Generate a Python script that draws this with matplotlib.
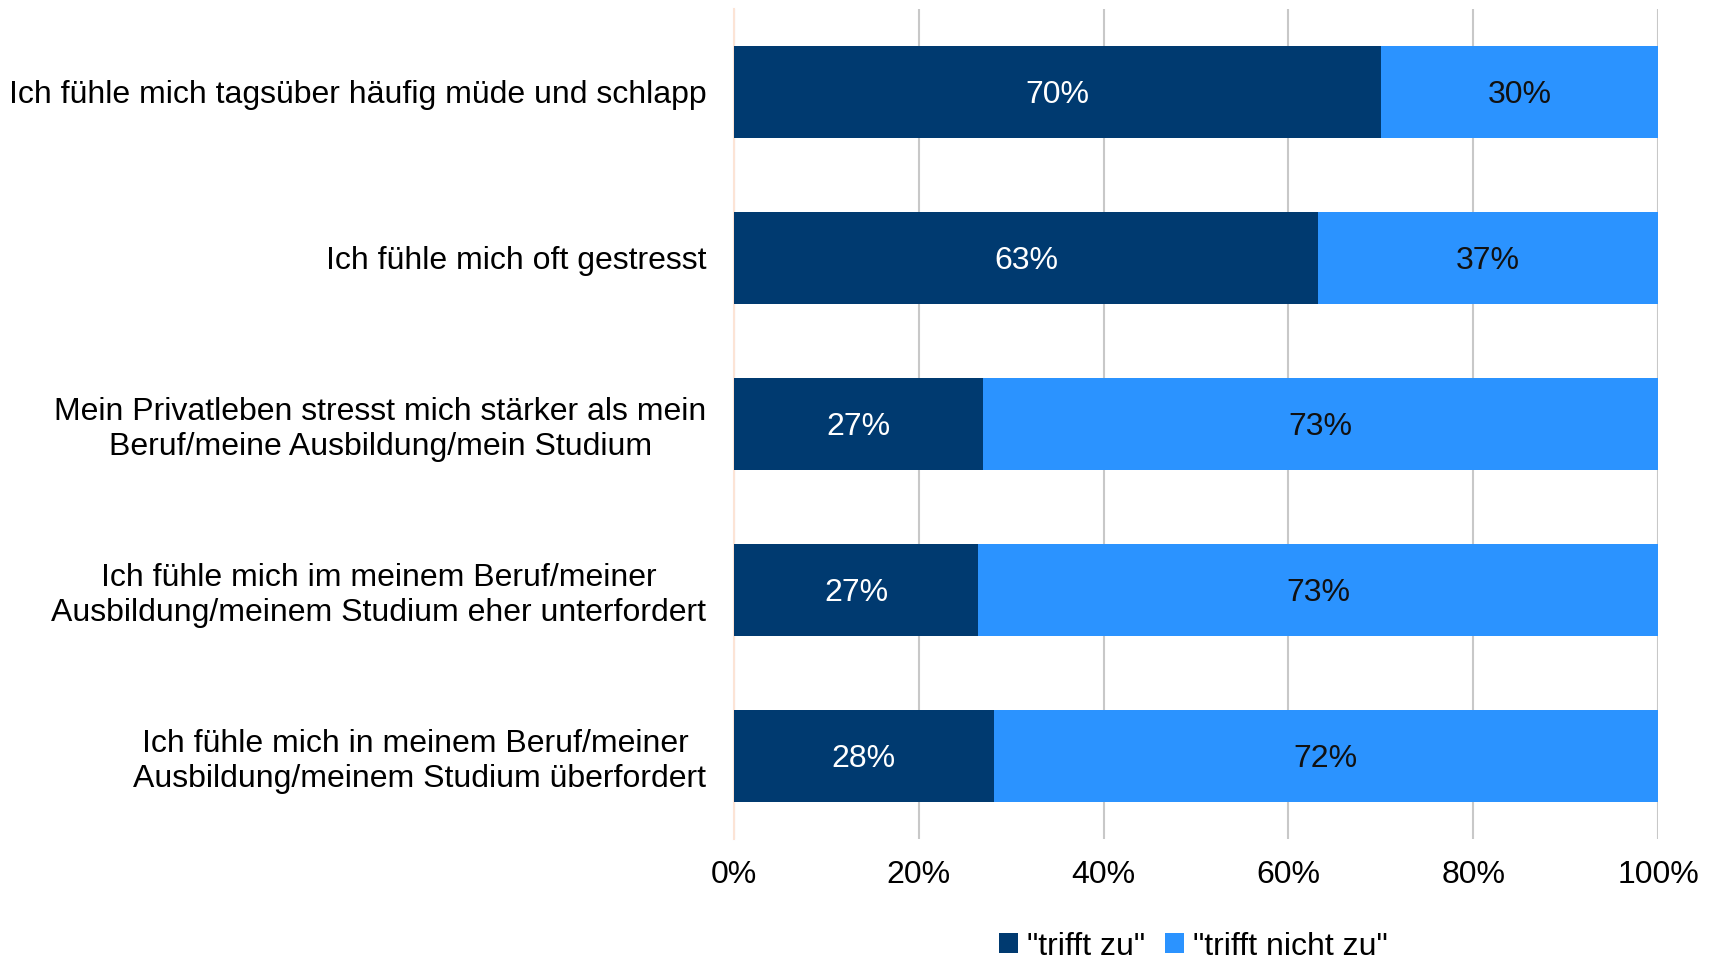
import matplotlib.pyplot as plt

plt.rcParams['font.family'] = ['Liberation Sans', 'DejaVu Sans']

categories = [
    "Ich fühle mich tagsüber häufig müde und schlapp",
    "Ich fühle mich oft gestresst",
    "Mein Privatleben stresst mich stärker als mein\nBeruf/meine Ausbildung/mein Studium",
    "Ich fühle mich im meinem Beruf/meiner\nAusbildung/meinem Studium eher unterfordert",
    "Ich fühle mich in meinem Beruf/meiner \nAusbildung/meinem Studium überfordert",
]
trifft_zu = [70.0, 63.2, 26.9, 26.4, 28.1]
trifft_nicht_zu = [30.0, 36.8, 73.1, 73.6, 71.9]
labels_zu = ["70%", "63%", "27%", "27%", "28%"]
labels_nicht = ["30%", "37%", "73%", "73%", "72%"]
xticks = [0, 20, 40, 60, 80, 100]

dark = "#003A70"
light = "#2B93FF"
fs = 23

fig = plt.figure(figsize=(17.17, 9.68), dpi=100)
ax = fig.add_axes([0.4275, 0.1333, 0.5382, 0.8574])

y = list(range(len(categories)))
h = 0.555
ax.barh(y, trifft_zu, height=h, color=dark, label='"trifft zu"', zorder=3)
ax.barh(y, trifft_nicht_zu, left=trifft_zu, height=h, color=light,
        label='"trifft nicht zu"', zorder=3)

for i in y:
    ax.text(trifft_zu[i] / 2, i, labels_zu[i], color="white", fontsize=fs,
            ha="center", va="center_baseline", zorder=4)
    ax.text(trifft_zu[i] + trifft_nicht_zu[i] / 2, i, labels_nicht[i],
            color="#111111", fontsize=fs, ha="center", va="center_baseline",
            zorder=4)

ax.set_ylim(len(categories) - 0.5, -0.5)
ax.set_xlim(0, 100)
ax.set_yticks(y)
ax.set_yticklabels(categories, fontsize=fs, ha="right", multialignment="center")
ax.set_xticks(xticks)
ax.set_xticklabels([f"{v}%" for v in xticks], fontsize=fs)
ax.tick_params(axis="both", length=0)
ax.tick_params(axis="x", pad=15)
ax.tick_params(axis="y", pad=20)

ax.grid(axis="x", color="#C8C8C8", linewidth=1.5, zorder=0)
for s in ["top", "right", "bottom"]:
    ax.spines[s].set_visible(False)
ax.spines["left"].set_color("#FCE4D6")
ax.spines["left"].set_linewidth(1.5)

fig.legend(loc="lower center", bbox_to_anchor=(0.695, 0.0), ncol=2,
           frameon=False, fontsize=fs, handlelength=0.6, handleheight=0.6,
           handletextpad=0.3, columnspacing=0.6, borderaxespad=0.1,
           borderpad=0.1)

fig.savefig("out.png")
